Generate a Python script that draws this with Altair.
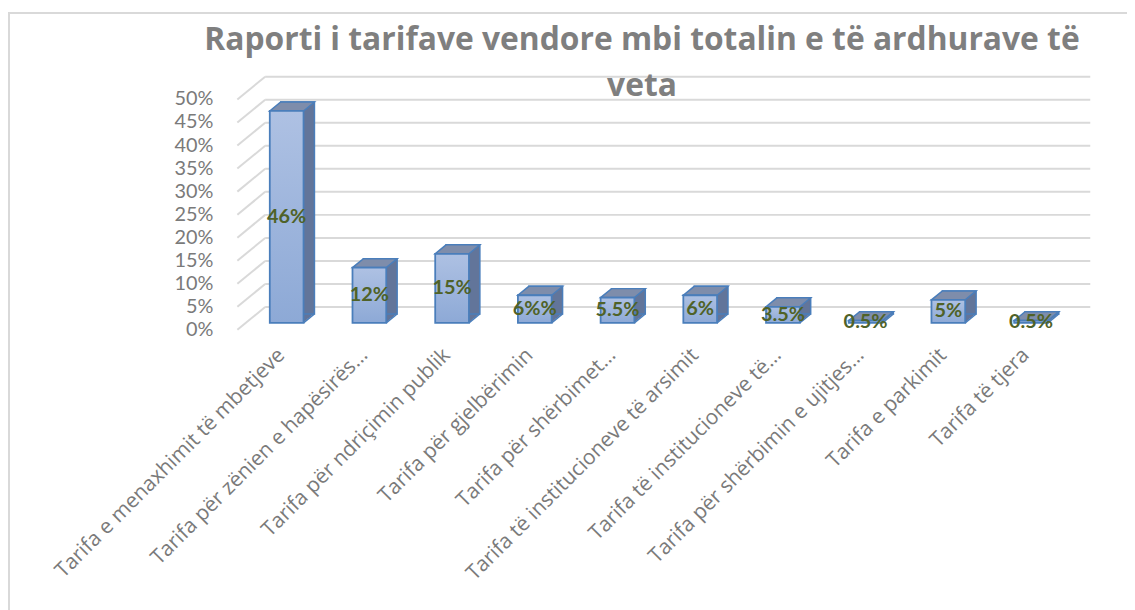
import altair as alt
import pandas as pd

categories = [
    "Tarifa e menaxhimit të mbetjeve",
    "Tarifa për zënien e hapësirës…",
    "Tarifa për ndriçimin publik",
    "Tarifa për gjelbërimin",
    "Tarifa për shërbimet…",
    "Tarifa të institucioneve të arsimit",
    "Tarifa të institucioneve të…",
    "Tarifa për shërbimin e ujitjes…",
    "Tarifa e parkimit",
    "Tarifa të tjera",
]
values = [0.46, 0.12, 0.15, 0.06, 0.055, 0.06, 0.035, 0.005, 0.05, 0.005]
value_labels = ["46%", "12%", "15%", "6%%", "5.5%", "6%", "3.5%", "0.5%", "5%", "0.5%"]
tick_values = [0, 0.05, 0.10, 0.15, 0.20, 0.25, 0.30, 0.35, 0.40, 0.45, 0.50]
tick_labels = ["0%", "5%", "10%", "15%", "20%", "25%", "30%", "35%", "40%", "45%", "50%"]
title_lines = ["Raporti i tarifave vendore mbi totalin e të ardhurave të", "veta"]

df = pd.DataFrame({"cat": categories, "val": values, "lab": value_labels})
df["mid"] = df["val"] / 2
df["zero"] = 0.0
ticks = pd.DataFrame({"t": tick_values, "tl": tick_labels})

W, H = 833, 232
DX, DY = 11, 9

xenc = alt.X(
    "cat:N",
    sort=categories,
    scale=alt.Scale(paddingInner=0.592, paddingOuter=0.296),
    axis=alt.Axis(
        title=None, domain=False, ticks=False, grid=False,
        labelAngle=-45, labelAlign="right", labelBaseline="middle",
        labelFontSize=21, labelFont="Open Sans", labelColor="#7a7a7a",
        labelPadding=29, labelOffset=-5, labelLimit=0,
    ),
)
yscale = alt.Scale(domain=[0, 0.5], nice=False, zero=True)


def yq(field):
    return alt.Y(field, type="quantitative", scale=yscale, axis=None)


base = alt.Chart(df)
tbase = alt.Chart(ticks)

border = tbase.mark_rect(fillOpacity=0, stroke="#d9d9d9", strokeWidth=1.5).encode(
    x=alt.value(-238), x2=alt.value(900), y=alt.value(-80), y2=alt.value(700)
)

grid_back = tbase.mark_rule(color="#d9d9d9", strokeWidth=2, yOffset=-16).encode(
    y=yq("t"), x=alt.value(20), x2=alt.value(851)
)
grid_diag = tbase.mark_rule(color="#d9d9d9", strokeWidth=2, yOffset=7, y2Offset=-16).encode(
    y=yq("t"), y2=alt.Y2("t"), x=alt.value(-8), x2=alt.value(20)
)
ylabels = tbase.mark_text(
    align="right", baseline="middle", font="Lato", fontSize=20, color="#7a7a7a", yOffset=7
).encode(y=yq("t"), x=alt.value(-32), text="tl:N")

layers = [border, grid_back, grid_diag, ylabels]

side_color = "#62759a"
top_color = "#7e8dab"
edge = "#4a7ebb"
for k in range(1, DX + 1):
    oy = -DY * k / DX
    layers.append(
        base.mark_bar(color=side_color, xOffset=k, x2Offset=k, yOffset=oy, y2Offset=oy).encode(
            x=xenc, y=yq("val"), y2=alt.Y2("zero")
        )
    )

layers.append(
    base.mark_bar(fillOpacity=0, stroke=edge, strokeWidth=1.5, xOffset=DX, x2Offset=DX,
                  yOffset=-DY, y2Offset=-DY).encode(x=xenc, y=yq("val"), y2=alt.Y2("zero"))
)

# top face of each box (a parallelogram symbol sitting on the bar's top)
layers.append(
    base.mark_point(
        shape="M-17,0L17,0L28,-9L-6,-9Z", size=4, filled=True, fill=top_color,
        stroke=edge, strokeWidth=1.5, opacity=1, fillOpacity=1,
    ).encode(x=xenc, y=yq("val"))
)
# lower right edge of the side face
layers.append(
    base.mark_point(
        shape="M0,0L11,-9", size=4, filled=False, stroke=edge, strokeWidth=1.5, opacity=1, xOffset=17,
    ).encode(x=xenc, y=yq("zero"))
)

front = base.mark_bar(
    stroke=edge, strokeWidth=1.8,
    fill=alt.Gradient(
        gradient="linear",
        stops=[alt.GradientStop(color="#aec1e3", offset=0), alt.GradientStop(color="#8da9d6", offset=1)],
        x1=0, x2=0, y1=0, y2=1,
    ),
).encode(x=xenc, y=yq("val"), y2=alt.Y2("zero"))
layers.append(front)

labels = base.mark_text(
    font="Lato", fontSize=20, fontWeight="bold", color="#4f6228", baseline="middle", align="center"
).encode(x=xenc, y=yq("mid"), text="lab:N")
layers.append(labels)

chart = alt.layer(*layers).properties(
    width=W,
    height=H,
    title=alt.TitleParams(
        text=title_lines, font="Open Sans", fontSize=32, fontWeight="bold", color="#7f7f7f",
        anchor="middle", frame="group", dx=-17, dy=83, lineHeight=46, offset=-8,
    ),
    autosize=alt.AutoSizeParams(type="none"),
    padding={"left": 239, "top": 83, "right": 55, "bottom": 287},
).configure(background="white", view=alt.ViewConfig(stroke="transparent", strokeWidth=0))

chart.save("out.html", embed_options={"renderer": "svg", "actions": False})
